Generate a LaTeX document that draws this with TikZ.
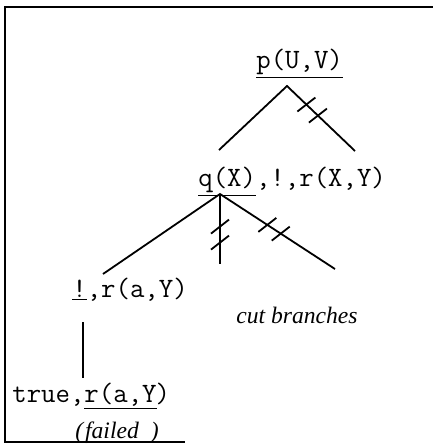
\documentclass[tikz,border=0pt]{standalone}
\usepackage{fontspec}
\setmainfont{Liberation Serif}
\usetikzlibrary{calc}
\tikzset{
  term/.style={font=\ttfamily\fontsize{14}{17}\selectfont,inner sep=0pt,anchor=base west},
  remark/.style={font=\itshape\fontsize{11.8}{14}\selectfont,inner sep=0pt},
  branch/.style={line width=0.9pt},
}
% two strokes across a branch, #3 = where along it
\newcommand{\cutmark}[3]{
  \coordinate (cm) at ($(#1)!#3!(#2)$);
  \draw[branch] ($(cm)!4pt!(#1)$) +(-9,7) -- +(9,-7);
  \draw[branch] ($(cm)!4pt!(#2)$) +(-9,7) -- +(9,-7);
}

\begin{document}
\begin{tikzpicture}[x=0.5pt,y=-0.5pt]
\useasboundingbox (0,0) rectangle (433,446);
% frame
\draw[line width=0.9pt] (433,7) -- (5,7) -- (5,442) -- (185,442);

\node[term] (root) at (256,68) {\underline{p(U,V)}};
\node[term] (goal) at (198,186) {\underline{q(X)},!,r(X,Y)};
\node[term] (cutgoal) at (72,297) {\underline{!},r(a,Y)};
\node[term] (leaf) at (12,402) {true,\underline{r(a,Y}\kern-0.5pt)};
\node[remark] (failnote) at (117,433) {(\kern1pt failed\kern6pt)};
\node[remark] (cutnote) at (297,315) {cut branches};

\coordinate (rootfork) at (287,86);
\coordinate (rootleft) at (219,150);
\coordinate (rootright) at (355,151);
\coordinate (goalfork) at (220,194);
\coordinate (goalleft) at (103,274);
\coordinate (goalmid) at (220,264);
\coordinate (goalright) at (335,269);
\coordinate (leaftop) at (83,322);
\coordinate (leafbot) at (83,378);

\draw[branch] (rootleft) -- (rootfork) -- (rootright);
\draw[branch] (goalleft) -- (goalfork) -- (goalright);
\draw[branch] (goalfork) -- (goalmid);
\draw[branch] (leaftop) -- (leafbot);

\cutmark{rootfork}{rootright}{0.37}
\cutmark{goalfork}{goalmid}{0.58}
\cutmark{goalfork}{goalright}{0.47}
\end{tikzpicture}
\end{document}
